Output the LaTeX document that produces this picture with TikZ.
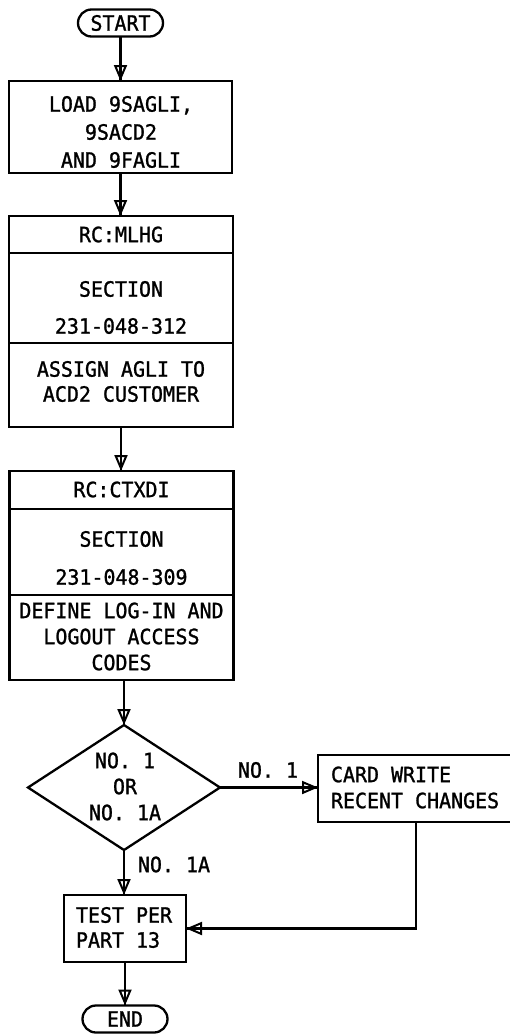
\documentclass[tikz,border=0pt]{standalone}
\usepackage{fontspec}
\newfontfamily\chartfont[FakeBold=1.2,FakeStretch=0.95]{DejaVu Sans Mono}
\usetikzlibrary{arrows.meta,shapes.geometric,shapes.misc}

\begin{document}
\begin{tikzpicture}[x=1pt,y=-1pt,line width=2.3pt,
  every node/.style={inner sep=0pt,outer sep=0pt,
    font=\chartfont\fontsize{21}{26}\selectfont},
  procbox/.style={draw,rectangle},
  term/.style={draw,rounded rectangle,minimum width=85pt,minimum height=27pt},
  decision/.style={draw,diamond,minimum width=192pt,minimum height=125pt},
  txt/.style={align=center},
  ltxt/.style={align=left,anchor=west},
  flow/.style={-{Triangle[open,length=16pt,width=13pt,line width=2pt]},
    postaction={draw,-}}
]
\useasboundingbox (0,0) rectangle (510,1034);

% terminators
\node[term] (start) at (120.5,23) {START};
\node[term] (finish) at (125,1019) {END};

% loading step
\node[procbox,minimum width=223pt,minimum height=92pt] (load) at (120.5,127) {};
\node[txt,font=\chartfont\fontsize{21}{28}\selectfont] (loadtxt) at (121,132)
  {LOAD 9SAGLI,\\9SACD2\\AND 9FAGLI};

% recent change MLHG
\node[procbox,minimum width=224pt,minimum height=211pt] (rca) at (121,321.5) {};
\draw (rca.west |- 0,253) -- (rca.east |- 0,253);
\draw (rca.west |- 0,343) -- (rca.east |- 0,343);
\node[txt] (rcatitle) at (121,234.5) {RC:MLHG};
\node[txt,font=\chartfont\fontsize{21}{37}\selectfont] (rcasec) at (121,307.5)
  {SECTION\\231-048-312};
\node[txt,font=\chartfont\fontsize{21}{25}\selectfont] (rcadesc) at (121,381.5)
  {ASSIGN AGLI TO\\ACD2 CUSTOMER};

% recent change CTXDI
\node[procbox,minimum width=224pt,minimum height=209pt] (rcb) at (121.5,575.5) {};
\draw (rcb.west |- 0,509) -- (rcb.east |- 0,509);
\draw (rcb.west |- 0,595) -- (rcb.east |- 0,595);
\node[txt] (rcbtitle) at (121.5,489.5) {RC:CTXDI};
\node[txt,font=\chartfont\fontsize{21}{38}\selectfont] (rcbsec) at (121.5,558)
  {SECTION\\231-048-309};
\node[txt] (rcbdesc) at (121.5,636.5)
  {DEFINE LOG-IN AND\\LOGOUT ACCESS\\CODES};

% switch type decision
\node[decision] (dec) at (124,787.5) {};
\node[txt] (dectxt) at (125,786.5) {NO. 1\\OR\\NO. 1A};

% card write and test
\node[procbox,minimum width=196pt,minimum height=67pt] (card) at (416,788.5) {};
\node[ltxt] (cardtxt) at (331,787.5) {CARD WRITE\\RECENT CHANGES};
\node[procbox,minimum width=122pt,minimum height=67pt] (test) at (125,928.5) {};
\node[ltxt,font=\chartfont\fontsize{21}{25}\selectfont] (testtxt) at (76,927.5)
  {TEST PER\\PART 13};

% branch labels
\node (lblone) at (268,770) {NO. 1};
\node (lbloneA) at (174,864.5) {NO. 1A};

% connectors
\draw[flow] (start.south) -- (start.south |- load.north);
\draw[flow] (load.south) -- (load.south |- rca.north);
\draw[flow] (rca.south) -- (rca.south |- rcb.north);
\draw[flow] (dec.north |- rcb.south) -- (dec.north);
\draw[flow] (dec.east) -- (dec.east -| card.west);
\draw[flow] (dec.south) -- (dec.south |- test.north);
\draw[flow] (card.south) -- (card.south |- test.east) -- (test.east);
\draw[flow] (test.south) -- (test.south |- finish.north);
\end{tikzpicture}
\end{document}
